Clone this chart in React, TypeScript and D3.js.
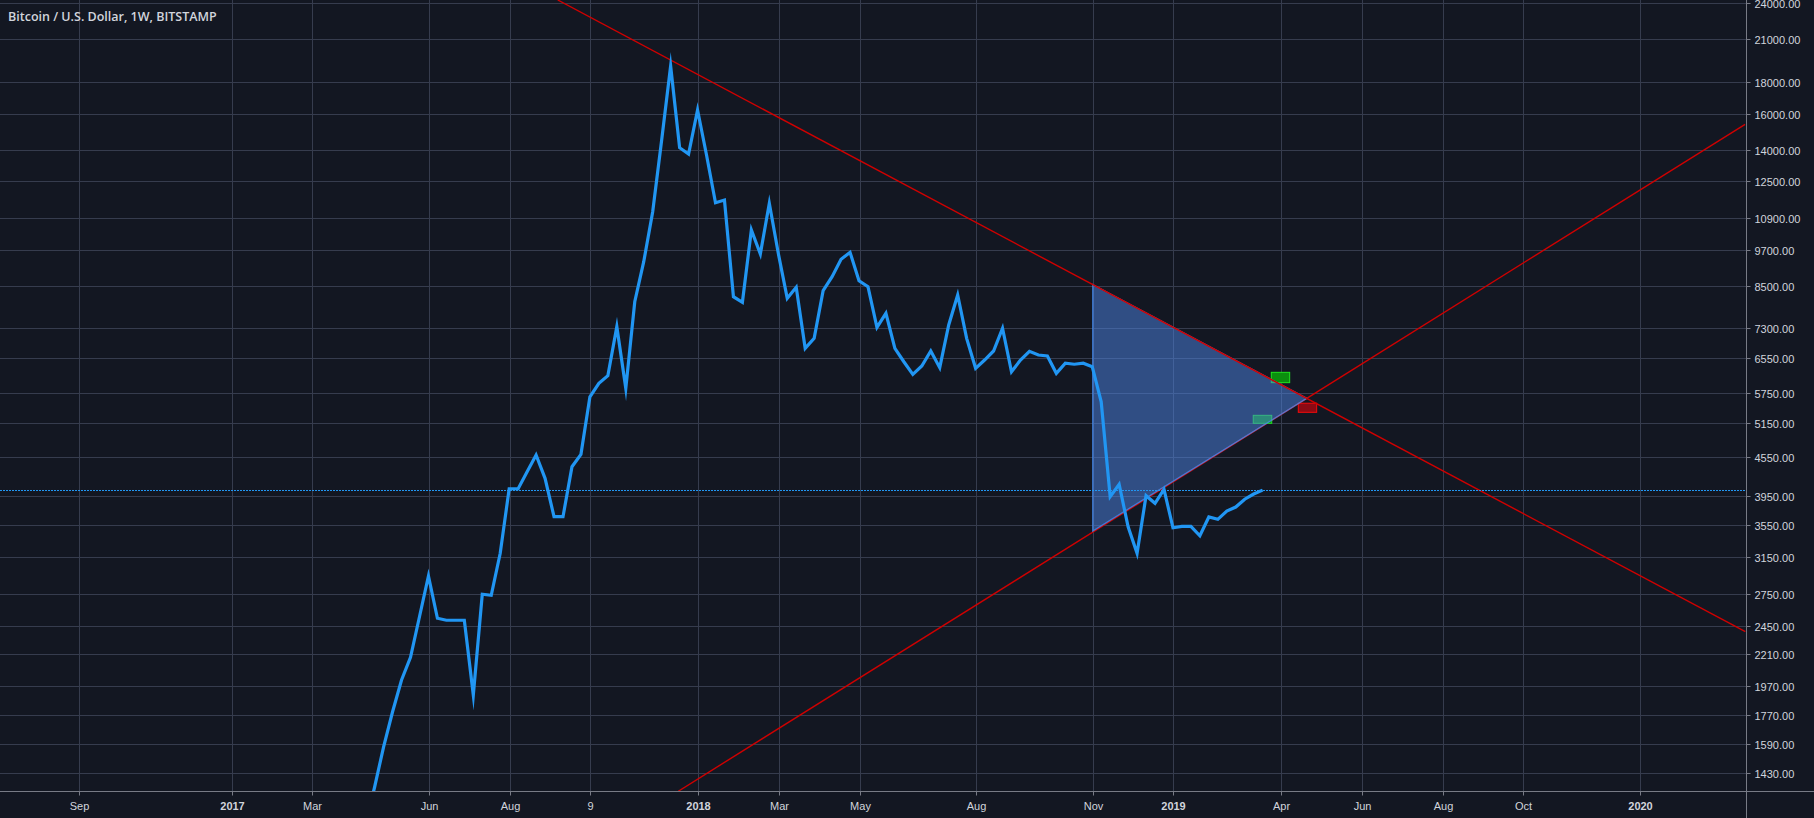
import { useRef, useEffect } from 'react';
import * as d3 from 'd3';

const WIDTH = 1814;
const HEIGHT = 818;
const AXIS_X = 1746;
const AXIS_Y = 791;

const chartTitle = 'Bitcoin / U.S. Dollar, 1W, BITSTAMP';

// weekly closes, bar 0 is the first week of 2018
const firstBar = -37;
const closes = [
  1190, 1361, 1577, 1793, 2014, 2188, 2539, 2948, 2525, 2507, 2507, 2507, 1906, 2757, 2747, 3203,
  4058, 4058, 4319, 4592, 4216, 3663, 3663, 4399, 4603, 5684, 5971, 6140, 7346, 5862, 8050, 9321,
  11195, 14557, 19090, 14152, 13829, 16247, 13779, 11569, 11685, 8199, 8034, 10468, 9588, 11544,
  9613, 8151, 8486, 6787, 7040, 8382, 8823, 9403, 9647, 8694, 8505, 7330, 7717, 6787, 6462, 6171,
  6361, 6721, 6323, 7392, 8251, 7040, 6308, 6502, 6721, 7304, 6230, 6502, 6713, 6623, 6599, 6193,
  6426, 6403, 6426, 6345, 5581, 3941, 4124, 3531, 3203, 3956, 3847, 4049, 3518, 3536, 3536, 3416,
  3659, 3628, 3740, 3795, 3905, 3980, 4038,
];

const priceTicks = [
  24000, 21000, 18000, 16000, 14000, 12500, 10900, 9700, 8500, 7300, 6550, 5750, 5150, 4550, 3950,
  3550, 3150, 2750, 2450, 2210, 1970, 1770, 1590, 1430,
];

const timeBars = [-69, -52, -43, -30, -21, -12, 0, 9, 18, 31, 44, 53, 65, 74, 83, 92, 105];
const timeLabels = ['Sep', '2017', 'Mar', 'Jun', 'Aug', '9', '2018', 'Mar', 'May', 'Aug', 'Nov', '2019', 'Apr', 'Jun', 'Aug', 'Oct', '2020'];
const yearLabels = ['2017', '2018', '2019', '2020'];

// drawings, as bar index / price pairs
const fallingBars = [-15.7, 116.7];
const fallingPrices = [24310, 2404];
const risingBars = [-2.26, 116.67];
const risingPrices = [1340, 15418];
const triangleBars = [44, 67.87, 44];
const trianglePrices = [8574, 5651, 3476];

const boxBars = [[63.85, 65.9], [61.84, 63.9], [66.86, 68.91]];
const boxPrices = [[6216, 5985], [5310, 5157], [5551, 5369]];
const boxFills = ['#0b8f0e', '#0b8f0e', '#8c0a14'];
const boxStrokes = ['#1ee41e', '#1ee41e', '#f40a0a'];

const BG = '#131722';
const GRID = '#363c4e';
const AXIS = '#787b86';
const TEXT = '#d1d4dc';
const LINE = '#2196f3';
const RED = '#d00000';

export default function App() {
  const svgRef = useRef<SVGSVGElement>(null);

  useEffect(() => {
    if (!svgRef.current) return;
    const svg = d3.select(svgRef.current);
    svg.selectAll('*').remove();

    const x = d3.scaleLinear().domain([0, 105]).range([698.55, 1640.4]);
    const y = d3.scaleLog().domain([24000, 1430]).range([3.5, 773.5]);
    const crisp = (v: number) => Math.floor(v) + 0.5;

    svg.append('rect').attr('width', WIDTH).attr('height', HEIGHT).attr('fill', BG);
    svg.append('clipPath').attr('id', 'plot')
      .append('rect').attr('width', AXIS_X).attr('height', AXIS_Y);

    // Grid
    const grid = svg.append('g').attr('stroke', GRID).attr('stroke-width', 1);
    grid.selectAll('.h').data(priceTicks).join('line').attr('class', 'h')
      .attr('x1', 0).attr('x2', AXIS_X)
      .attr('y1', (d) => crisp(y(d))).attr('y2', (d) => crisp(y(d)));
    grid.selectAll('.v').data(timeBars).join('line').attr('class', 'v')
      .attr('x1', (d) => crisp(x(d))).attr('x2', (d) => crisp(x(d)))
      .attr('y1', 0).attr('y2', AXIS_Y);

    const plot = svg.append('g').attr('clip-path', 'url(#plot)');

    const trendLine = (bars: number[], prices: number[]) => {
      plot.append('line')
        .attr('x1', x(bars[0])).attr('y1', y(prices[0]))
        .attr('x2', x(bars[1])).attr('y2', y(prices[1]))
        .attr('stroke', RED).attr('stroke-width', 1.4);
    };

    trendLine(risingBars, risingPrices);

    // Small boxes sit under the triangle, which tints them where they overlap
    boxBars.forEach((bars, i) => {
      const top = y(boxPrices[i][0]);
      const bottom = y(boxPrices[i][1]);
      plot.append('rect')
        .attr('x', x(bars[0])).attr('y', top)
        .attr('width', x(bars[1]) - x(bars[0])).attr('height', bottom - top)
        .attr('fill', boxFills[i]).attr('stroke', boxStrokes[i]).attr('stroke-width', 1);
    });

    const triangle = d3.line<number>().x((b) => x(b) - 0.5).y((_, i) => y(trianglePrices[i]));
    plot.append('path')
      .attr('d', triangle(triangleBars) + 'Z')
      .attr('fill', 'rgba(77,133,230,0.5)')
      .attr('stroke', 'rgba(70,140,240,0.8)').attr('stroke-width', 1.3);

    // the falling line stays red along the triangle's top edge
    trendLine(fallingBars, fallingPrices);

    // Price series
    const priceLine = d3.line<number>()
      .x((_, i) => x(firstBar + i) - 1)
      .y((d) => y(d));
    plot.append('path')
      .attr('d', priceLine(closes))
      .attr('fill', 'none').attr('stroke', LINE).attr('stroke-width', 3.2)
      .attr('stroke-linejoin', 'miter').attr('stroke-miterlimit', 10);

    // Last price line
    const last = closes[closes.length - 1];
    plot.append('line')
      .attr('x1', 0).attr('x2', AXIS_X)
      .attr('y1', crisp(y(last))).attr('y2', crisp(y(last)))
      .attr('stroke', LINE).attr('stroke-width', 1).attr('stroke-dasharray', '2,1');

    // Axes
    const font = '"Liberation Sans", Arial, sans-serif';
    const rightAxis = svg.append('g')
      .attr('transform', `translate(${AXIS_X + 0.5},0)`)
      .call(d3.axisRight(y).tickValues(priceTicks).tickSize(4).tickPadding(4).offset(0)
        .tickFormat((d) => (d as number).toFixed(2)));
    rightAxis.select('.domain').remove();
    rightAxis.selectAll<SVGGElement, number>('.tick')
      .attr('transform', (d) => `translate(0,${crisp(y(d))})`);
    rightAxis.selectAll('line').attr('stroke', AXIS);
    rightAxis.selectAll('text').attr('fill', TEXT).attr('font-family', font).attr('font-size', 11)
      .attr('dy', '0.41em');

    const bottomAxis = svg.append('g')
      .attr('transform', `translate(0,${AXIS_Y + 0.5})`)
      .call(d3.axisBottom(x).tickValues(timeBars).tickSize(4).tickPadding(7).offset(0)
        .tickFormat((_, i) => timeLabels[i]));
    bottomAxis.select('.domain').remove();
    bottomAxis.selectAll<SVGGElement, number>('.tick')
      .attr('transform', (d) => `translate(${crisp(x(d))},0)`);
    bottomAxis.selectAll('line').attr('stroke', AXIS);
    bottomAxis.selectAll('text').attr('fill', TEXT).attr('font-family', font).attr('font-size', 11)
      .attr('font-weight', (_, i) => (yearLabels.includes(timeLabels[i]) ? 700 : 400));

    svg.append('line')
      .attr('x1', AXIS_X + 0.5).attr('x2', AXIS_X + 0.5).attr('y1', 0).attr('y2', HEIGHT)
      .attr('stroke', AXIS);
    svg.append('line')
      .attr('x1', 0).attr('x2', WIDTH).attr('y1', AXIS_Y + 0.5).attr('y2', AXIS_Y + 0.5)
      .attr('stroke', AXIS);

    svg.append('text')
      .attr('x', 8).attr('y', 21)
      .attr('fill', TEXT).attr('font-family', '"Open Sans", sans-serif')
      .attr('font-size', 12.5).attr('font-weight', 600)
      .text(chartTitle);
  }, []);

  return (
    <svg
      ref={svgRef}
      width={WIDTH}
      height={HEIGHT}
      style={{ position: 'absolute', left: 0, top: 0, display: 'block' }}
    />
  );
}
